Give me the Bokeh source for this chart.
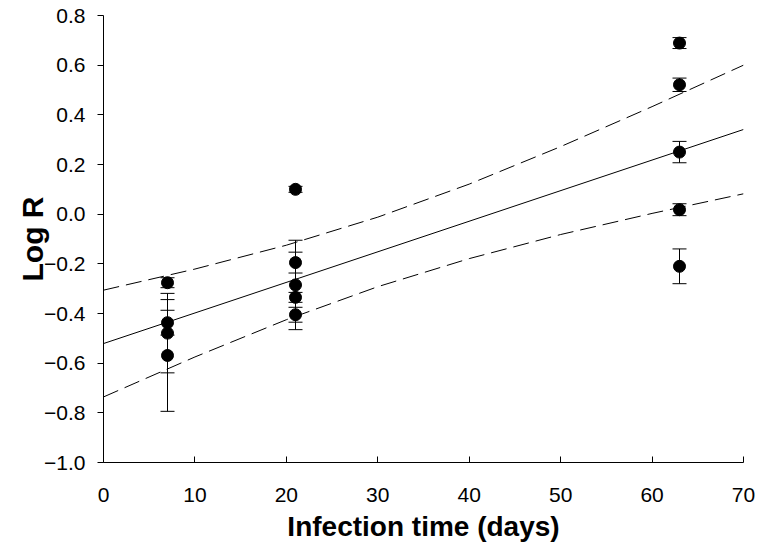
import numpy as np
from bokeh.plotting import figure
from bokeh.models import ColumnDataSource, Whisker, TeeHead, Range1d, FixedTicker
from bokeh.embed import file_html
from bokeh.resources import INLINE

# ---- data ----
days = [7, 7, 7, 7, 21, 21, 21, 21, 21, 63, 63, 63, 63, 63]
log_r = [-0.276, -0.437, -0.479, -0.569,
         0.100, -0.195, -0.285, -0.335, -0.405,
         0.689, 0.521, 0.250, 0.018, -0.210]
log_r_err = [0.020, 0.050, 0.160, 0.225,
             0.012, 0.042, 0.180, 0.020, 0.030,
             0.022, 0.027, 0.043, 0.024, 0.070]

fit_days = [0, 70]
fit_log_r = [-0.521, 0.341]

band_days = [0, 10, 20, 30, 40, 50, 60, 70]
band_upper = [-0.306, -0.221, -0.125, -0.012, 0.121, 0.272, 0.433, 0.600]
band_lower = [-0.736, -0.575, -0.425, -0.292, -0.179, -0.082, 0.003, 0.082]

x_ticks = [0, 10, 20, 30, 40, 50, 60, 70]
y_ticks = [-1.0, -0.8, -0.6, -0.4, -0.2, 0.0, 0.2, 0.4, 0.6, 0.8]
y_tick_labels = ["\u22121.0", "\u22120.8", "\u22120.6", "\u22120.4", "\u22120.2",
                 "0.0", "0.2", "0.4", "0.6", "0.8"]
x_title = "Infection time (days)"
y_title = "Log R"

FONT = "Liberation Sans"

p = figure(frame_width=640, frame_height=447,
           min_border_left=103, min_border_right=14,
           min_border_top=15, min_border_bottom=86,
           x_range=Range1d(0, 70), y_range=Range1d(-1.0, 0.8),
           output_backend="svg", toolbar_location=None)
p.outline_line_color = None
p.xgrid.visible = False
p.ygrid.visible = False
p.background_fill_color = "white"
p.border_fill_color = "white"

# axes
xa = p.xaxis[0]
xa.ticker = FixedTicker(ticks=x_ticks)
xa.minor_tick_line_color = None
xa.major_tick_in = 6
xa.major_tick_out = 0
xa.axis_line_color = "black"
xa.major_tick_line_color = "black"
xa.major_label_text_font = FONT
xa.major_label_text_font_size = "21px"
xa.major_label_text_color = "black"
xa.major_label_standoff = 25
xa.axis_label = x_title
xa.axis_label_text_font = FONT
xa.axis_label_text_font_style = "bold"
xa.axis_label_text_font_size = "28px"
xa.axis_label_text_color = "black"
xa.axis_label_standoff = 6

ya = p.yaxis[0]
ya.ticker = FixedTicker(ticks=y_ticks)
ya.major_label_overrides = {t: l for t, l in zip(y_ticks, y_tick_labels)}
ya.minor_tick_line_color = None
ya.major_tick_in = 0
ya.major_tick_out = 6
ya.axis_line_color = "black"
ya.major_tick_line_color = "black"
ya.major_label_text_font = FONT
ya.major_label_text_font_size = "21px"
ya.major_label_text_color = "black"
ya.major_label_standoff = 12
ya.axis_label = y_title
ya.axis_label_text_font = FONT
ya.axis_label_text_font_style = "bold"
ya.axis_label_text_font_size = "30px"
ya.axis_label_text_color = "black"
ya.axis_label_standoff = -8

# confidence band and regression line
p.line(band_days, band_upper, line_color="black", line_width=1, line_dash="16 7")
p.line(band_days, band_lower, line_color="black", line_width=1, line_dash="16 7")
p.line(fit_days, fit_log_r, line_color="black", line_width=1)

# error bars
y = np.array(log_r)
e = np.array(log_r_err)
src = ColumnDataSource(data=dict(x=days, y=log_r, upper=y + e, lower=y - e))
wh = Whisker(source=src, base="x", upper="upper", lower="lower", dimension="height",
             line_color="black", line_width=1,
             upper_head=TeeHead(size=14, line_color="black", line_width=1),
             lower_head=TeeHead(size=14, line_color="black", line_width=1))
p.add_layout(wh)

p.scatter("x", "y", source=src, size=12, fill_color="black", line_color="black")

open("out.html", "w").write(file_html(p, INLINE))
